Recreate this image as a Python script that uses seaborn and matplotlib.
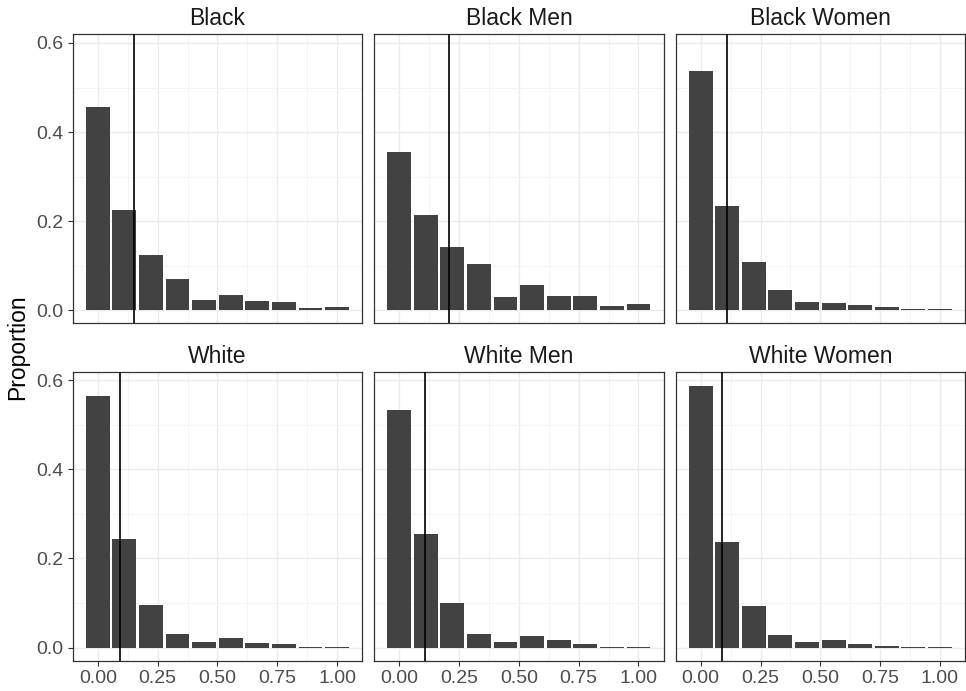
import numpy as np
import pandas as pd
import matplotlib
matplotlib.use("Agg")
import matplotlib.pyplot as plt
import seaborn as sns
from matplotlib.ticker import FixedLocator

# ---- data ----
groups = ["Black", "Black Men", "Black Women", "White", "White Men", "White Women"]
bin_centers = [0.000, 0.111, 0.222, 0.333, 0.444, 0.556, 0.667, 0.778, 0.889, 1.000]

black = [0.456, 0.224, 0.123, 0.071, 0.023, 0.034, 0.020, 0.018, 0.005, 0.008]
black_men = [0.355, 0.213, 0.142, 0.104, 0.030, 0.056, 0.032, 0.031, 0.009, 0.013]
black_women = [0.538, 0.233, 0.108, 0.045, 0.019, 0.016, 0.011, 0.008, 0.002, 0.003]
white = [0.565, 0.243, 0.095, 0.030, 0.013, 0.021, 0.010, 0.007, 0.0015, 0.0015]
white_men = [0.534, 0.254, 0.099, 0.031, 0.013, 0.026, 0.016, 0.008, 0.0015, 0.0015]
white_women = [0.588, 0.236, 0.093, 0.029, 0.012, 0.017, 0.007, 0.0045, 0.0015, 0.0015]

group_means = [0.152, 0.209, 0.109, 0.094, 0.106, 0.087]

x_ticks = [0.00, 0.25, 0.50, 0.75, 1.00]
x_tick_labels = ["0.00", "0.25", "0.50", "0.75", "1.00"]
y_ticks = [0.0, 0.2, 0.4, 0.6]
y_tick_labels = ["0.0", "0.2", "0.4", "0.6"]

series = [black, black_men, black_women, white, white_men, white_women]
rows = []
for g, vals in zip(groups, series):
    for b, v in zip(bin_centers, vals):
        rows.append({"group": g, "bin": b, "prop": v})
df = pd.DataFrame(rows)

# ---- style ----
sns.set_style("white")
plt.rcParams["font.family"] = ["Liberation Sans", "DejaVu Sans"]

fig, axes = plt.subplots(2, 3, figsize=(9.66, 6.91), dpi=100, sharex=True, sharey=True)
fig.subplots_adjust(left=0.0753, right=0.999, bottom=0.0438, top=0.9504,
                    wspace=0.0415, hspace=0.1667)

bar_color = "#424242"
for i, (ax, g) in enumerate(zip(axes.flat, groups)):
    sub = df[df["group"] == g]
    sns.barplot(data=sub, x="bin", y="prop", native_scale=True, ax=ax,
                color=bar_color, saturation=1, width=0.9, errorbar=None,
                edgecolor="white", linewidth=0, zorder=2)
    ax.axvline(group_means[i], color="black", lw=1.2, zorder=3)

    ax.set_xlim(-0.105, 1.105)
    ax.set_ylim(-0.0295, 0.6195)
    ax.xaxis.set_major_locator(FixedLocator(x_ticks))
    ax.xaxis.set_minor_locator(FixedLocator([0.125, 0.375, 0.625, 0.875]))
    ax.yaxis.set_major_locator(FixedLocator(y_ticks))
    ax.yaxis.set_minor_locator(FixedLocator([0.1, 0.3, 0.5]))
    ax.set_axisbelow(True)
    ax.grid(which="major", color="#EBEBEB", lw=1.0, zorder=0)
    ax.grid(which="minor", color="#F2F2F2", lw=0.6, zorder=0)
    for s in ax.spines.values():
        s.set_color("#333333")
        s.set_linewidth(0.9)
        s.set_visible(True)
    ax.set_xlabel("")
    ax.set_ylabel("")
    ax.set_title(g, fontsize=16.5, color="#1A1A1A", pad=6.5)

    r, c = divmod(i, 3)
    ax.tick_params(axis="both", which="minor", length=0)
    ax.tick_params(axis="x", which="major", length=3.6, width=0.8, color="#333333",
                   labelsize=14, labelcolor="#4D4D4D", pad=3,
                   bottom=(r == 1), labelbottom=(r == 1))
    ax.tick_params(axis="y", which="major", length=3.6, width=0.8, color="#333333",
                   labelsize=14, labelcolor="#4D4D4D", pad=3,
                   left=(c == 0), labelleft=(c == 0))
    if r == 1:
        ax.set_xticklabels(x_tick_labels)
    if c == 0:
        ax.set_yticklabels(y_tick_labels)

fig.text(0.018, 0.498, "Proportion", rotation=90, ha="center", va="center",
         fontsize=16.5, color="black")

fig.savefig("out.png", dpi=100, facecolor="white")
